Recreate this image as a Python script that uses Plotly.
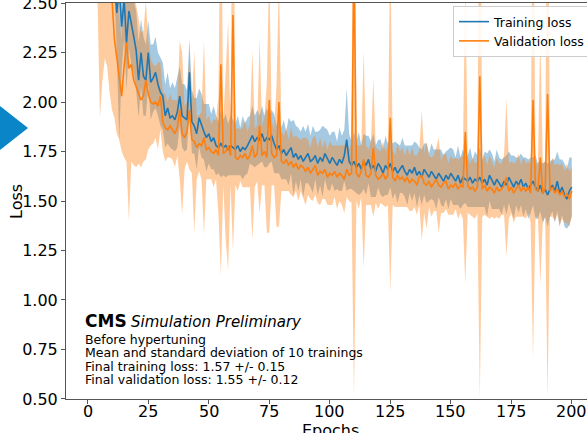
import plotly.graph_objects as go

epochs = list(range(1, 201))

train_mean = [
    3.60, 3.30, 3.10, 2.95, 2.85, 2.78, 2.72, 2.68, 2.64, 2.60,
    2.62, 2.45, 2.58, 2.38, 2.52, 2.30, 2.46, 2.40, 2.33, 2.26,
    2.11, 2.25, 2.13, 2.11, 2.25, 2.10, 2.12, 2.15, 2.09, 2.05,
    2.03, 1.93, 1.97, 1.92, 1.93, 1.91, 1.95, 2.03, 1.93, 1.92,
    1.91, 2.15, 1.90, 1.88, 1.84, 1.92, 1.88, 1.85, 1.82, 1.84,
    1.80, 1.82, 1.78, 1.77, 1.79, 1.77, 1.78, 1.76, 1.78, 1.77,
    1.76, 1.78, 1.75, 1.77, 1.76, 1.78, 1.81, 1.83, 1.80, 1.82,
    1.81, 1.84, 1.80, 1.82, 1.81, 1.83, 1.79, 1.76, 1.78, 1.74,
    1.76, 1.73, 1.75, 1.77, 1.72, 1.74, 1.71, 1.73, 1.70, 1.72,
    1.74, 1.70, 1.71, 1.73, 1.69, 1.72, 1.70, 1.74, 1.71, 1.69,
    1.72, 1.70, 1.68, 1.71, 1.69, 1.73, 1.81, 1.70, 1.68, 1.70,
    1.67, 1.69, 1.66, 1.70, 1.68, 1.71, 1.66, 1.68, 1.65, 1.69,
    1.67, 1.64, 1.68, 1.66, 1.69, 1.65, 1.67, 1.64, 1.66, 1.68,
    1.65, 1.63, 1.66, 1.64, 1.67, 1.63, 1.65, 1.62, 1.66, 1.64,
    1.62, 1.65, 1.63, 1.61, 1.64, 1.62, 1.60, 1.63, 1.61, 1.64,
    1.62, 1.60, 1.63, 1.59, 1.62, 1.61, 1.60, 1.62, 1.59, 1.61,
    1.60, 1.62, 1.59, 1.61, 1.58, 1.63, 1.60, 1.58, 1.61, 1.59,
    1.57, 1.60, 1.58, 1.62, 1.59, 1.57, 1.60, 1.58, 1.61, 1.57,
    1.59, 1.56, 1.58, 1.60, 1.57, 1.55, 1.58, 1.54, 1.56, 1.53,
    1.56, 1.58, 1.55, 1.60, 1.54, 1.57, 1.53, 1.51, 1.55, 1.57,
]

train_std = [
    0.30, 0.26, 0.22, 0.18, 0.15, 0.13, 0.12, 0.10, 0.09, 0.08,
    0.08, 0.20, 0.78, 0.22, 0.20, 0.24, 0.19, 0.21, 0.18, 0.20,
    0.19, 0.17, 0.20, 0.18, 0.16, 0.19, 0.17, 0.18, 0.16, 0.17,
    0.17, 0.16, 0.18, 0.15, 0.17, 0.16, 0.18, 0.15, 0.16, 0.17,
    0.15, 0.17, 0.16, 0.14, 0.18, 0.15, 0.16, 0.14, 0.17, 0.15,
    0.14, 0.16, 0.15, 0.13, 0.17, 0.14, 0.16, 0.13, 0.15, 0.14,
    0.13, 0.15, 0.12, 0.16, 0.13, 0.14, 0.12, 0.15, 0.13, 0.14,
    0.12, 0.14, 0.13, 0.15, 0.12, 0.13, 0.15, 0.12, 0.14, 0.13,
    0.15, 0.12, 0.17, 0.13, 0.19, 0.14, 0.16, 0.12, 0.18, 0.13,
    0.15, 0.13, 0.17, 0.12, 0.16, 0.14, 0.18, 0.13, 0.15, 0.14,
    0.13, 0.15, 0.12, 0.16, 0.14, 0.13, 0.26, 0.14, 0.12, 0.15,
    0.13, 0.16, 0.12, 0.14, 0.15, 0.12, 0.14, 0.16, 0.13, 0.12,
    0.14, 0.12, 0.15, 0.13, 0.12, 0.14, 0.13, 0.15, 0.12, 0.14,
    0.13, 0.15, 0.12, 0.14, 0.13, 0.16, 0.12, 0.14, 0.13, 0.15,
    0.12, 0.14, 0.13, 0.15, 0.12, 0.14, 0.13, 0.12, 0.15, 0.13,
    0.14, 0.12, 0.15, 0.13, 0.14, 0.12, 0.13, 0.15, 0.12, 0.14,
    0.13, 0.15, 0.12, 0.14, 0.16, 0.13, 0.14, 0.12, 0.15, 0.13,
    0.14, 0.12, 0.15, 0.13, 0.14, 0.16, 0.12, 0.14, 0.13, 0.15,
    0.13, 0.15, 0.14, 0.12, 0.16, 0.14, 0.13, 0.15, 0.14, 0.16,
    0.14, 0.13, 0.16, 0.15, 0.17, 0.14, 0.16, 0.15, 0.17, 0.15,
]

val_mean = [
    3.80, 3.40, 3.15, 2.98, 2.85, 2.76, 2.68, 2.62, 2.58, 2.52,
    2.32, 2.22, 2.12, 2.03, 2.18, 2.30, 2.17, 2.19, 2.11, 2.08,
    2.05, 2.01, 2.03, 2.11, 2.04, 2.00, 1.99, 2.00, 1.98, 2.03,
    1.90, 1.87, 1.86, 1.88, 1.86, 1.84, 1.87, 1.96, 1.84, 1.82,
    1.85, 1.96, 1.81, 1.80, 1.77, 1.79, 1.78, 1.82, 1.76, 1.77,
    1.75, 1.74, 1.76, 1.73, 2.19, 1.74, 1.75, 1.78, 1.73, 2.44,
    1.72, 1.71, 1.73, 1.72, 1.74, 1.71, 1.73, 1.78, 1.72, 1.74,
    1.88, 1.73, 1.75, 1.72, 2.01, 1.74, 1.72, 1.73, 2.00, 1.70,
    1.69, 1.71, 1.68, 1.70, 1.67, 1.69, 1.66, 1.68, 1.67, 1.65,
    1.67, 1.64, 1.66, 1.68, 1.63, 1.65, 1.64, 1.66, 1.62, 1.64,
    1.63, 1.65, 1.62, 1.64, 1.63, 1.61, 1.66, 1.63, 1.64, 2.70,
    1.64, 1.62, 1.65, 1.71, 1.63, 1.62, 1.64, 1.77, 1.63, 1.61,
    1.62, 1.64, 1.61, 1.63, 1.92, 1.62, 1.60, 1.63, 1.61, 1.62,
    1.60, 1.62, 1.59, 1.61, 1.60, 1.58, 1.62, 1.63, 1.59, 1.58,
    1.60, 1.57, 1.59, 1.61, 1.58, 1.57, 1.59, 1.60, 1.56, 1.58,
    1.57, 1.59, 1.56, 1.58, 1.57, 1.85, 1.58, 1.56, 1.57, 1.55,
    1.57, 2.13, 1.56, 1.58, 1.55, 1.57, 1.56, 1.54, 1.57, 1.55,
    1.56, 1.58, 1.62, 1.55, 1.57, 1.54, 1.56, 1.58, 1.55, 1.57,
    1.55, 1.57, 1.54, 2.01, 1.56, 1.55, 1.72, 1.54, 1.56, 2.04,
    1.55, 1.57, 1.54, 1.56, 1.53, 1.55, 1.52, 1.54, 1.51, 1.55,
]

val_std = [
    0.75, 0.70, 0.55, 0.45, 0.93, 0.66, 0.46, 0.44, 0.53, 0.56,
    0.40, 0.38, 0.31, 0.28, 0.46, 0.60, 0.77, 0.49, 0.43, 0.41,
    0.36, 0.34, 0.33, 0.40, 0.28, 0.22, 0.20, 0.18, 0.22, 0.17,
    0.15, 0.17, 0.14, 0.16, 0.15, 0.17, 0.14, 0.35, 0.41, 0.16,
    0.15, 0.30, 0.17, 0.46, 0.16, 0.14, 0.17, 0.49, 0.15, 0.16,
    0.14, 0.17, 0.15, 0.30, 1.07, 0.16, 0.45, 0.63, 0.15, 1.19,
    0.14, 0.16, 0.13, 0.15, 0.17, 0.14, 0.16, 0.48, 0.15, 0.14,
    0.44, 0.15, 0.17, 0.38, 0.67, 0.16, 0.14, 0.36, 0.63, 0.15,
    0.14, 0.16, 0.13, 0.17, 0.15, 0.14, 0.16, 0.13, 0.15, 0.17,
    0.14, 0.13, 0.16, 0.15, 0.14, 0.17, 0.13, 0.15, 0.14, 0.16,
    0.15, 0.13, 0.16, 0.14, 0.15, 0.17, 0.14, 0.13, 0.15, 2.20,
    0.14, 0.16, 0.13, 0.55, 0.15, 0.14, 0.16, 0.35, 0.14, 0.15,
    0.13, 0.16, 0.14, 0.15, 0.88, 0.14, 0.13, 0.16, 0.14, 0.15,
    0.13, 0.15, 0.14, 0.16, 0.13, 0.15, 0.14, 0.33, 0.15, 0.22,
    0.13, 0.15, 0.14, 0.16, 0.24, 0.13, 0.15, 0.14, 0.13, 0.15,
    0.14, 0.13, 0.15, 0.14, 0.16, 0.77, 0.14, 0.13, 0.15, 0.14,
    0.13, 1.63, 0.14, 0.15, 0.13, 0.16, 0.14, 0.13, 0.15, 0.14,
    0.13, 0.15, 0.40, 0.14, 0.13, 0.15, 0.14, 0.16, 0.13, 0.15,
    0.14, 0.13, 0.15, 1.31, 0.14, 0.13, 0.64, 0.15, 0.14, 1.54,
    0.13, 0.15, 0.14, 0.13, 0.15, 0.14, 0.13, 0.15, 0.14, 0.12,
]

y_ticks = [0.50, 0.75, 1.00, 1.25, 1.50, 1.75, 2.00, 2.25, 2.50]
x_ticks = [0, 25, 50, 75, 100, 125, 150, 175, 200]

info_lines = [
    "Before hypertuning",
    "Mean and standard deviation of 10 trainings",
    "Final training loss: 1.57 +/- 0.15",
    "Final validation loss: 1.55 +/- 0.12",
]

BLUE = "#1f77b4"
ORANGE = "#ff7f0e"
FONT = "DejaVu Sans"

W, H = 587, 433
ML, MR, MT, MB = 66, 0, 3, 34
PW, PH = W - ML - MR, H - MT - MB


def px_x(px):
    return (px - ML) / PW


def px_y(py):
    return 1 - (py - MT) / PH


def band(mean, std, color, name):
    lo = [m - s for m, s in zip(mean, std)]
    hi = [m + s for m, s in zip(mean, std)]
    return [
        go.Scatter(x=epochs, y=lo, mode="lines", line=dict(width=0),
                   showlegend=False, hoverinfo="skip", name=name + " lo"),
        go.Scatter(x=epochs, y=hi, mode="lines", line=dict(width=0),
                   fill="tonexty", fillcolor=color, showlegend=False,
                   hoverinfo="skip", name=name + " hi"),
    ]


fig = go.Figure()
for tr in band(train_mean, train_std, "rgba(31,119,180,0.4)", "train"):
    fig.add_trace(tr)
for tr in band(val_mean, val_std, "rgba(255,127,14,0.4)", "val"):
    fig.add_trace(tr)
fig.add_trace(go.Scatter(x=epochs, y=train_mean, mode="lines",
                         line=dict(color=BLUE, width=1.6), name="Training loss"))
fig.add_trace(go.Scatter(x=epochs, y=val_mean, mode="lines",
                         line=dict(color=ORANGE, width=1.6), name="Validation loss"))

x_lo = -9.0
x_hi = x_lo + PW / 2.42

fig.update_layout(
    width=W, height=H,
    margin=dict(l=ML, r=MR, t=MT, b=MB, pad=0, autoexpand=False),
    paper_bgcolor="white", plot_bgcolor="white",
    font=dict(family=FONT, color="black"),
    xaxis=dict(range=[x_lo, x_hi], tickvals=x_ticks, showticklabels=False,
               showgrid=False, zeroline=False, showline=True, linecolor="#555555",
               linewidth=1, mirror=True, ticks="outside", ticklen=4, tickcolor="#555555",
               automargin=False),
    yaxis=dict(range=[0.4999, 2.5001], tickvals=y_ticks, ticktext=["%.2f" % t for t in y_ticks],
               showgrid=False, zeroline=False, showline=True, linecolor="#555555",
               linewidth=1, ticks="outside", ticklen=4, tickcolor="#555555",
               ticklabeloverflow="allow", automargin=False,
               tickfont=dict(size=16, family=FONT, color="black")),
    legend=dict(x=px_x(453), y=px_y(6), xanchor="left", yanchor="top",
                traceorder="normal",
                bgcolor="rgba(255,255,255,0.85)", bordercolor="#cccccc", borderwidth=1,
                font=dict(size=12.5, family=FONT, color="black"), tracegroupgap=0),
    showlegend=True,
)

ann = []
# x tick labels, placed at the axis' own tick values
for t in x_ticks:
    ann.append(dict(text=str(t), x=t, xref="x", y=px_y(411), yref="paper",
                    showarrow=False, font=dict(size=16, family=FONT, color="black"),
                    xanchor="center", yanchor="middle"))
ann.append(dict(text="Loss", x=px_x(17), y=px_y(202), xref="paper", yref="paper",
                textangle=-90, showarrow=False, font=dict(size=16, family=FONT),
                xanchor="center", yanchor="middle"))
ann.append(dict(text="Epochs", x=px_x(330), y=px_y(430), xref="paper", yref="paper",
                showarrow=False, font=dict(size=16, family=FONT),
                xanchor="center", yanchor="middle"))
ann.append(dict(text="<b>CMS</b>", x=px_x(83), y=px_y(321), xref="paper", yref="paper",
                showarrow=False, font=dict(size=17, family=FONT),
                xanchor="left", yanchor="middle"))
ann.append(dict(text="<i>Simulation Preliminary</i>", x=px_x(129), y=px_y(322),
                xref="paper", yref="paper", showarrow=False,
                font=dict(size=15, family=FONT), xanchor="left", yanchor="middle"))
for i, line in enumerate(info_lines):
    ann.append(dict(text=line, x=px_x(83), y=px_y(339 + 13.5 * i), xref="paper", yref="paper",
                    showarrow=False, font=dict(size=12.5, family=FONT),
                    xanchor="left", yanchor="middle"))
fig.update_layout(annotations=ann)

# slide decoration triangle at the left edge
x0, x1 = px_x(0), px_x(28)
fig.add_shape(type="path", xref="paper", yref="paper",
              path=f"M {x0} {px_y(106)} L {x1} {px_y(128)} L {x0} {px_y(150)} Z",
              fillcolor="#0a86c8", line=dict(width=0), layer="above")

fig.write_html("out.html")
